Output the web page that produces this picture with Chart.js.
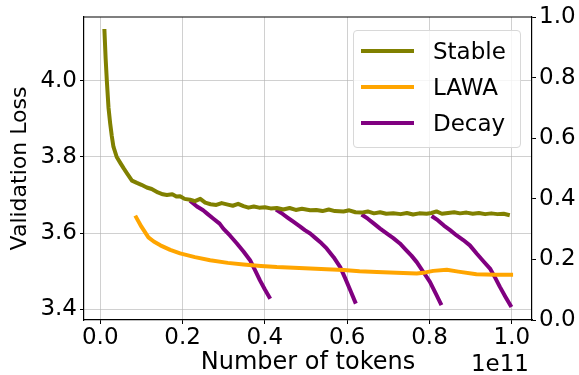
<!DOCTYPE html>
<html>
<head>
<meta charset="utf-8">
<script src="https://cdn.jsdelivr.net/npm/chart.js@4"></script>
<style>
  body { margin: 0; background: #fff; }
  #wrap { position: relative; width: 579px; height: 375px; }
  #legend {
    position: absolute; left: 353px; top: 30px; width: 166px; height: 116px;
    border: 1px solid #d8d8d8; border-radius: 4px; background: rgba(255,255,255,0.8);
    font-family: "DejaVu Sans", sans-serif; font-size: 23px; color: #000;
  }
  .row { position: absolute; left: 0; height: 30px; }
  .row .swatch { position: absolute; left: 7px; width: 53px; height: 4px; top: 13px; }
  .row .lbl { position: absolute; left: 79px; top: 0; line-height: 30px; white-space: nowrap; }
</style>
</head>
<body>
<div id="wrap">
  <canvas id="lossChart" width="579" height="375"></canvas>
  <div id="legend"></div>
</div>
<script>
// x values in units of 1e11 tokens, y = validation loss
const stable = [
  [0.010, 4.136], [0.013, 4.060], [0.016, 4.000], [0.020, 3.930], [0.024, 3.889],
  [0.028, 3.855], [0.032, 3.827], [0.040, 3.800], [0.049, 3.784], [0.057, 3.770],
  [0.065, 3.757], [0.077, 3.738], [0.089, 3.732], [0.100, 3.727], [0.113, 3.720],
  [0.125, 3.716], [0.140, 3.707], [0.152, 3.702], [0.162, 3.700], [0.175, 3.702],
  [0.185, 3.696], [0.194, 3.697], [0.205, 3.690], [0.218, 3.688], [0.230, 3.684],
  [0.243, 3.690], [0.255, 3.680], [0.268, 3.676], [0.282, 3.674], [0.295, 3.679],
  [0.310, 3.675], [0.322, 3.672], [0.335, 3.677], [0.348, 3.671], [0.360, 3.667],
  [0.373, 3.670], [0.386, 3.667], [0.400, 3.668], [0.414, 3.665], [0.429, 3.666],
  [0.445, 3.662], [0.460, 3.666], [0.475, 3.661], [0.490, 3.664], [0.510, 3.660],
  [0.525, 3.661], [0.540, 3.658], [0.555, 3.662], [0.570, 3.658], [0.591, 3.657],
  [0.605, 3.660], [0.620, 3.655], [0.635, 3.654], [0.650, 3.657], [0.665, 3.652],
  [0.680, 3.655], [0.695, 3.651], [0.712, 3.652], [0.730, 3.650], [0.745, 3.653],
  [0.760, 3.649], [0.775, 3.652], [0.793, 3.651], [0.805, 3.653], [0.817, 3.657],
  [0.830, 3.651], [0.845, 3.653], [0.860, 3.655], [0.874, 3.652], [0.890, 3.654],
  [0.905, 3.651], [0.920, 3.653], [0.935, 3.650], [0.950, 3.652], [0.965, 3.650],
  [0.980, 3.651], [0.995, 3.647]
];

const lawa = [
  [0.085, 3.646], [0.100, 3.617], [0.117, 3.589], [0.130, 3.578], [0.146, 3.568],
  [0.170, 3.556], [0.194, 3.547], [0.230, 3.537], [0.267, 3.529], [0.310, 3.522],
  [0.348, 3.518], [0.390, 3.514], [0.429, 3.511], [0.470, 3.509], [0.510, 3.507],
  [0.550, 3.505], [0.591, 3.503], [0.630, 3.500], [0.672, 3.498], [0.720, 3.496],
  [0.769, 3.494], [0.790, 3.497], [0.809, 3.501], [0.842, 3.504], [0.870, 3.499],
  [0.914, 3.492], [0.960, 3.491], [1.003, 3.491]
];

const decay1 = [
  [0.218, 3.685], [0.235, 3.670], [0.250, 3.660], [0.259, 3.652], [0.275, 3.638],
  [0.290, 3.625], [0.299, 3.612], [0.315, 3.594], [0.332, 3.573], [0.348, 3.552],
  [0.364, 3.529], [0.376, 3.503], [0.388, 3.476], [0.400, 3.452], [0.413, 3.428]
];
const decay2 = [
  [0.427, 3.662], [0.440, 3.653], [0.455, 3.641], [0.469, 3.630], [0.485, 3.618],
  [0.497, 3.608], [0.510, 3.599], [0.523, 3.587], [0.537, 3.574], [0.550, 3.560],
  [0.567, 3.537], [0.583, 3.511], [0.595, 3.482], [0.608, 3.449], [0.621, 3.415]
];
const decay3 = [
  [0.635, 3.649], [0.650, 3.638], [0.665, 3.625], [0.680, 3.612], [0.695, 3.600],
  [0.712, 3.587], [0.728, 3.573], [0.742, 3.557], [0.756, 3.541], [0.769, 3.524],
  [0.785, 3.498], [0.801, 3.472], [0.815, 3.442], [0.829, 3.411]
];
const decay4 = [
  [0.805, 3.645], [0.820, 3.634], [0.835, 3.620], [0.850, 3.608], [0.866, 3.594],
  [0.882, 3.582], [0.898, 3.568], [0.915, 3.546], [0.932, 3.525], [0.947, 3.507],
  [0.960, 3.482], [0.971, 3.459], [0.985, 3.432], [0.999, 3.406]
];

const xTicks = [0.0, 0.2, 0.4, 0.6, 0.8, 1.0];
const yTicks = [3.4, 3.6, 3.8, 4.0];
const y2Ticks = [0.0, 0.2, 0.4, 0.6, 0.8, 1.0];

const FONT = "'DejaVu Sans', sans-serif";

function toPts(arr) {
  return arr.map(p => ({ x: p[0], y: p[1] }));
}
// decay runs joined with gaps so they stay one series
const decayPts = [];
[decay1, decay2, decay3, decay4].forEach((seg, i) => {
  if (i > 0) decayPts.push({ x: seg[0][0] - 0.001, y: null });
  decayPts.push(...toPts(seg));
});

const frame = {
  id: "frame",
  afterDraw(chart) {
    const { ctx, chartArea } = chart;
    ctx.save();
    ctx.strokeStyle = "#000";
    ctx.lineWidth = 1.2;
    ctx.beginPath();
    ctx.moveTo(chartArea.left, chartArea.top);
    ctx.lineTo(chartArea.right, chartArea.top);
    ctx.stroke();
    ctx.fillStyle = "#000";
    ctx.font = "23px " + FONT;
    ctx.textAlign = "right";
    ctx.textBaseline = "alphabetic";
    ctx.fillText("1e11", chartArea.right - 3, 371);
    ctx.restore();
  },
};

const ctx = document.getElementById("lossChart").getContext("2d");
const lossChart = new Chart(ctx, {
  type: "line",
  data: {
    datasets: [
      {
        label: "Stable",
        data: toPts(stable),
        borderColor: "#808000",
        borderWidth: 4,
        yAxisID: "y",
      },
      {
        label: "LAWA",
        data: toPts(lawa),
        borderColor: "#FFA500",
        borderWidth: 4,
        yAxisID: "y",
      },
      {
        label: "Decay",
        data: decayPts,
        borderColor: "#800080",
        borderWidth: 4,
        spanGaps: false,
        yAxisID: "y",
      },
    ],
  },
  options: {
    responsive: false,
    animation: false,
    layout: { padding: { top: 17, left: 0, right: 0, bottom: 0 } },
    elements: {
      point: { radius: 0 },
      line: { tension: 0, borderCapStyle: "butt", borderJoinStyle: "round" },
    },
    scales: {
      x: {
        type: "linear",
        min: -0.0395,
        max: 1.049,
        afterBuildTicks: (s) => { s.ticks = xTicks.map(v => ({ value: v })); },
        afterFit: (s) => { s.height = 55; },
        ticks: {
          color: "#000",
          font: { family: FONT, size: 23 },
          padding: 0,
          maxRotation: 0,
          callback: (v) => v.toFixed(1),
        },
        grid: { color: "rgba(176,176,176,0.6)", lineWidth: 1, tickColor: "#000", tickLength: 4 },
        border: { color: "#000", width: 1.2 },
        title: {
          display: true,
          text: "Number of tokens",
          color: "#000",
          font: { family: FONT, size: 24, lineHeight: 1 },
          padding: 0,
        },
      },
      y: {
        type: "linear",
        position: "left",
        min: 3.372,
        max: 4.1676,
        afterBuildTicks: (s) => { s.ticks = yTicks.map(v => ({ value: v })); },
        afterFit: (s) => { s.width = 84; },
        ticks: {
          color: "#000",
          font: { family: FONT, size: 23 },
          padding: 3,
          callback: (v) => v.toFixed(1),
        },
        grid: { color: "rgba(176,176,176,0.6)", lineWidth: 1, tickColor: "#000", tickLength: 4 },
        border: { color: "#000", width: 1.2 },
        title: {
          display: true,
          text: "Validation Loss",
          color: "#000",
          font: { family: FONT, size: 22, lineHeight: 1 },
          padding: { top: 9, bottom: 0 },
        },
      },
      y1: {
        type: "linear",
        position: "right",
        min: 0,
        max: 1,
        afterBuildTicks: (s) => { s.ticks = y2Ticks.map(v => ({ value: v })); },
        afterFit: (s) => { s.width = 47; },
        ticks: {
          color: "#000",
          font: { family: FONT, size: 23 },
          padding: 3,
          callback: (v) => v.toFixed(1),
        },
        grid: { drawOnChartArea: false, tickColor: "#000", tickLength: 4 },
        border: { color: "#000", width: 1.2 },
      },
    },
    plugins: {
      legend: { display: false },
      tooltip: { enabled: false },
    },
  },
  plugins: [frame],
});

// legend box built from the datasets
const legendEl = document.getElementById("legend");
const rowTops = [5, 41, 77];
lossChart.data.datasets.forEach((ds, i) => {
  const row = document.createElement("div");
  row.className = "row";
  row.style.top = rowTops[i] + "px";
  row.innerHTML =
    '<div class="swatch" style="background:' + ds.borderColor + '"></div>' +
    '<div class="lbl">' + ds.label + "</div>";
  legendEl.appendChild(row);
});
</script>
</body>
</html>
